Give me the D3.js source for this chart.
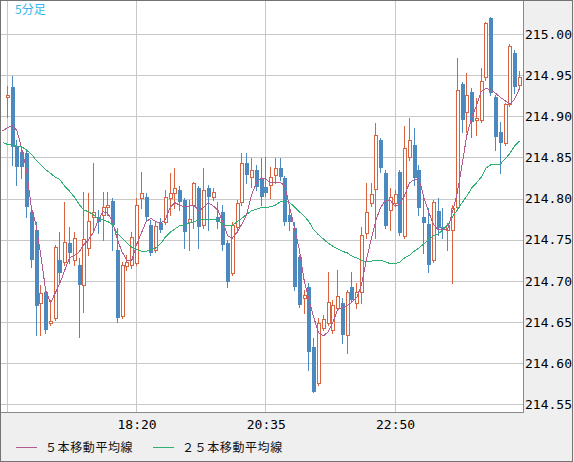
<!DOCTYPE html>
<html>
<head>
<meta charset="utf-8">
<script src="https://cdn.jsdelivr.net/npm/d3@7"></script>
<style>
  body { margin: 0; background: #fff; }
</style>
</head>
<body>
<div id="container"></div>
<script>
/* DATA (5-minute bars, bar 0 = 16:05) */
const title = "5分足";
const timeLabels = ["18:20", "20:35", "22:50"];
const timeBars = [27, 54, 81];
const gridBars = [0, 27, 54, 81];
const priceTicks = [214.55, 214.60, 214.65, 214.70, 214.75, 214.80, 214.85, 214.90, 214.95, 215.00];
const legendNames = ["５本移動平均線", "２５本移動平均線"];

const openP = [
  214.923,214.936,214.864,214.857,214.855,214.784,214.762,214.673,214.687,214.649,
  214.655,214.725,214.723,214.746,214.725,214.719,214.695,214.740,214.778,214.778,
  214.780,214.790,214.797,214.738,214.657,214.718,214.719,214.722,214.801,214.802,
  214.768,214.738,214.770,214.772,214.801,214.807,214.810,214.798,214.772,214.792,
  214.813,214.768,214.813,214.802,214.778,214.784,214.746,214.710,214.765,214.796,
  214.843,214.826,214.835,214.825,214.814,214.817,214.829,214.837,214.825,214.780,
  214.764,214.729,214.679,214.693,214.620,214.576,214.643,214.649,214.640,214.667,
  214.673,214.634,214.693,214.673,214.687,214.758,214.795,214.812,214.871,214.831,
  214.786,214.795,214.832,214.755,214.851,214.865,214.835,214.778,214.769,214.725,
  214.785,214.765,214.762,214.762,214.790,214.939,214.905,214.930,214.896,214.896,
  214.948,215.019,214.923,214.881,214.868,214.915,214.977,214.938];
const highP = [
  214.937,214.949,214.871,214.863,214.859,214.792,214.772,214.695,214.691,214.677,
  214.744,214.759,214.796,214.765,214.759,214.728,214.808,214.807,214.843,214.786,
  214.808,214.808,214.801,214.764,214.723,214.731,214.759,214.801,214.832,214.807,
  214.774,214.772,214.776,214.810,214.831,214.837,214.815,214.801,214.798,214.820,
  214.815,214.837,214.817,214.813,214.796,214.792,214.750,214.772,214.798,214.855,
  214.855,214.849,214.841,214.849,214.851,214.838,214.849,214.849,214.827,214.792,
  214.772,214.731,214.689,214.697,214.631,214.655,214.659,214.711,214.677,214.713,
  214.679,214.689,214.711,214.697,214.765,214.819,214.819,214.892,214.874,214.835,
  214.813,214.810,214.835,214.888,214.898,214.886,214.841,214.801,214.789,214.798,
  214.801,214.789,214.770,214.792,214.971,214.942,214.953,214.934,214.922,214.959,
  215.015,215.021,214.926,214.893,214.916,214.988,214.981,214.955];
const lowP = [
  214.899,214.841,214.817,214.825,214.778,214.717,214.634,214.634,214.637,214.646,
  214.652,214.697,214.719,214.722,214.719,214.632,214.662,214.731,214.762,214.758,
  214.750,214.780,214.738,214.650,214.655,214.713,214.716,214.719,214.789,214.774,
  214.731,214.735,214.759,214.769,214.780,214.789,214.786,214.740,214.738,214.764,
  214.740,214.764,214.762,214.798,214.764,214.738,214.693,214.707,214.762,214.792,
  214.819,214.814,214.810,214.792,214.803,214.801,214.819,214.823,214.768,214.762,
  214.689,214.668,214.661,214.592,214.565,214.574,214.640,214.646,214.637,214.665,
  214.625,214.612,214.674,214.667,214.673,214.752,214.791,214.752,214.832,214.764,
  214.762,214.791,214.756,214.752,214.847,214.817,214.780,214.734,214.711,214.723,
  214.756,214.752,214.738,214.697,214.786,214.881,214.881,214.875,214.877,214.893,
  214.944,214.926,214.859,214.831,214.865,214.913,214.928,214.936];
const closeP = [
  214.926,214.863,214.838,214.838,214.790,214.725,214.670,214.685,214.640,214.651,
  214.741,214.710,214.747,214.734,214.752,214.695,214.751,214.773,214.784,214.772,
  214.790,214.792,214.768,214.655,214.719,214.723,214.753,214.792,214.807,214.778,
  214.734,214.767,214.762,214.802,214.807,214.813,214.796,214.759,214.775,214.819,
  214.765,214.810,214.802,214.808,214.772,214.744,214.699,214.768,214.795,214.843,
  214.829,214.835,214.814,214.802,214.807,214.826,214.837,214.826,214.772,214.772,
  214.693,214.671,214.683,214.614,214.565,214.649,214.654,214.674,214.671,214.682,
  214.634,214.687,214.677,214.687,214.756,214.784,214.806,214.877,214.837,214.767,
  214.802,214.806,214.758,214.861,214.871,214.825,214.789,214.770,214.719,214.796,
  214.764,214.762,214.768,214.789,214.932,214.896,214.926,214.893,214.898,214.943,
  215.013,214.928,214.875,214.868,214.915,214.985,214.936,214.948];

// moving averages, starting one bar before bar 0
const ma5 = [
  214.882,214.886,214.889,214.883,214.861,214.835,214.790,214.768,214.731,214.689,214.673,
  214.685,214.697,214.713,214.728,214.731,214.735,214.744,214.750,214.759,214.774,
  214.784,214.782,214.772,214.750,214.735,214.725,214.725,214.744,214.758,214.772,
  214.776,214.772,214.770,214.774,214.789,214.795,214.792,214.790,214.791,214.792,
  214.785,214.789,214.795,214.791,214.786,214.772,214.755,214.752,214.759,214.769,
  214.780,214.804,214.819,214.825,214.824,214.819,214.819,214.820,214.815,214.789,
  214.764,214.738,214.701,214.677,214.656,214.637,214.633,214.638,214.649,214.665,
  214.668,214.670,214.674,214.680,214.695,214.725,214.750,214.774,214.789,214.798,
  214.798,214.791,214.793,214.804,214.819,214.823,214.824,214.802,214.784,214.769,
  214.762,214.762,214.763,214.784,214.807,214.841,214.877,214.898,214.913,214.930,
  214.934,214.932,214.928,214.923,214.919,214.915,214.921,214.934];
const ma25 = [
  214.868,214.866,214.865,214.864,214.863,214.859,214.854,214.847,214.841,214.835,214.831,
  214.826,214.823,214.815,214.809,214.802,214.793,214.786,214.784,214.780,214.776,
  214.774,214.772,214.768,214.758,214.752,214.746,214.741,214.738,214.736,214.736,
  214.738,214.740,214.745,214.753,214.759,214.763,214.767,214.768,214.770,214.772,
  214.774,214.775,214.775,214.774,214.774,214.769,214.767,214.767,214.772,214.776,
  214.781,214.785,214.787,214.789,214.789,214.790,214.792,214.796,214.797,214.795,
  214.790,214.784,214.779,214.772,214.762,214.756,214.751,214.746,214.742,214.739,
  214.736,214.734,214.730,214.728,214.725,214.723,214.724,214.725,214.725,214.723,
  214.721,214.721,214.723,214.728,214.731,214.736,214.740,214.745,214.750,214.755,
  214.757,214.762,214.768,214.778,214.786,214.795,214.803,214.813,214.819,214.826,
  214.837,214.841,214.841,214.842,214.848,214.855,214.864,214.870];

/* CONSTANTS */
const width = 574,
  height = 462,
  plotW = 523,
  plotH = 412;

const upColor = "#d9623f",
  downColor = "#4b89be",
  ma5Color = "#b55a8f",
  ma25Color = "#2eb070",
  gridColor = "#c8c8c8",
  monoFont = "'DejaVu Sans Mono', monospace",
  cjkFont = "'Noto Sans CJK JP', sans-serif";

const svg = d3.select("#container")
  .append("svg")
  .attr("width", width)
  .attr("height", height)
  .style("display", "block")
  .attr("shape-rendering", "crispEdges");

svg.append("rect").attr("width", width).attr("height", height).attr("fill", "#efefef");
svg.append("rect").attr("width", plotW).attr("height", plotH).attr("fill", "#fff");

svg.append("clipPath").attr("id", "plotclip")
  .append("rect").attr("width", plotW).attr("height", plotH);

/* SCALES */
const xScale = d3.scaleLinear()
  .domain([0, 107])
  .range([7.3, 519.5]);

const yScale = d3.scaleLinear()
  .domain([214.55, 215.00])
  .range([404.3, 34]);

const px = i => Math.floor(xScale(i));
const py = v => Math.round(yScale(v));

/* GRID */
const grid = svg.append("g").attr("stroke", gridColor).attr("stroke-width", 1);
grid.selectAll(".hgrid")
  .data(priceTicks)
  .join("line")
  .attr("class", "hgrid")
  .attr("x1", 0).attr("x2", plotW)
  .attr("y1", d => py(d) + 0.5).attr("y2", d => py(d) + 0.5);
grid.selectAll(".vgrid")
  .data(gridBars)
  .join("line")
  .attr("class", "vgrid")
  .attr("x1", d => px(d) + 0.5).attr("x2", d => px(d) + 0.5)
  .attr("y1", 0).attr("y2", plotH);

/* CANDLES */
const bars = openP.map((o, i) => ({ i, o, h: highP[i], l: lowP[i], c: closeP[i], up: closeP[i] >= o }));

const plot = svg.append("g").attr("clip-path", "url(#plotclip)");

const candle = plot.selectAll(".candle")
  .data(bars)
  .join("g")
  .attr("class", "candle");

// wicks
candle.each(function(d) {
  const g = d3.select(this);
  const cx = px(d.i) + 0.5;
  if (d.up) {
    g.append("line").attr("x1", cx).attr("x2", cx)
      .attr("y1", py(d.h)).attr("y2", py(d.c) + 0.5)
      .attr("stroke", upColor);
    g.append("line").attr("x1", cx).attr("x2", cx)
      .attr("y1", py(d.o) + 0.5).attr("y2", py(d.l) + 1)
      .attr("stroke", upColor);
    g.append("rect")
      .attr("x", px(d.i) - 0.5)
      .attr("y", py(d.c) + 0.5)
      .attr("width", 3)
      .attr("height", Math.max(0, py(d.o) - py(d.c)))
      .attr("fill", "#fff")
      .attr("stroke", upColor);
  } else {
    g.append("line").attr("x1", cx).attr("x2", cx)
      .attr("y1", py(d.h)).attr("y2", py(d.l) + 1)
      .attr("stroke", downColor);
    g.append("rect")
      .attr("x", px(d.i) - 1)
      .attr("y", py(d.o))
      .attr("width", 4)
      .attr("height", Math.max(1, py(d.c) - py(d.o)))
      .attr("fill", downColor);
  }
});

/* MOVING AVERAGES */
const maLine = d3.line()
  .x((d, k) => xScale(k - 1))
  .y(d => yScale(d));

plot.append("path")
  .datum(ma25)
  .attr("d", maLine)
  .attr("fill", "none")
  .attr("stroke", ma25Color)
  .attr("stroke-width", 1);

plot.append("path")
  .datum(ma5)
  .attr("d", maLine)
  .attr("fill", "none")
  .attr("stroke", ma5Color)
  .attr("stroke-width", 1);

/* BORDERS */
svg.append("path")
  .attr("d", `M${plotW + 0.5},0V${plotH + 0.5}H0`)
  .attr("fill", "none")
  .attr("stroke", "#8a8a8a");
svg.append("rect")
  .attr("x", 0.5).attr("y", 0.5)
  .attr("width", width - 2).attr("height", height - 1)
  .attr("fill", "none")
  .attr("stroke", "#737373");

/* AXES */
const yAxis = svg.append("g")
  .attr("transform", `translate(${plotW},0)`)
  .call(d3.axisRight(yScale)
    .tickValues(priceTicks)
    .tickSize(0)
    .tickPadding(2)
    .tickFormat(d3.format(".2f")));
yAxis.select(".domain").remove();
yAxis.selectAll("text")
  .style("font-family", monoFont)
  .style("font-size", "13px")
  .attr("fill", "#000");

const xAxis = svg.append("g")
  .attr("transform", `translate(0,${plotH})`)
  .call(d3.axisBottom(xScale)
    .tickValues(timeBars)
    .tickSize(0)
    .tickPadding(8)
    .tickFormat((d, k) => timeLabels[k]));
xAxis.select(".domain").remove();
xAxis.selectAll("text")
  .style("font-family", monoFont)
  .style("font-size", "13px")
  .attr("fill", "#000");

/* TITLE + LEGEND */
svg.append("text")
  .attr("x", 15).attr("y", 14)
  .text(title)
  .style("font-family", cjkFont)
  .style("font-size", "12px")
  .attr("fill", "#35b5ea");

const legend = svg.append("g").attr("transform", "translate(0,447)");
const legendItems = [
  { name: legendNames[0], color: ma5Color, x: 16 },
  { name: legendNames[1], color: ma25Color, x: 153 }
];
legend.selectAll(".leg")
  .data(legendItems)
  .join("g")
  .attr("class", "leg")
  .each(function(d) {
    const g = d3.select(this);
    g.append("line")
      .attr("x1", d.x).attr("x2", d.x + 21)
      .attr("y1", 0.5).attr("y2", 0.5)
      .attr("stroke", d.color);
    g.append("text")
      .attr("x", d.x + 29).attr("y", 5)
      .text(d.name)
      .style("font-family", cjkFont)
      .style("font-size", "12px")
      .style("letter-spacing", "0.6px")
      .attr("fill", "#111");
  });
</script>
</body>
</html>
